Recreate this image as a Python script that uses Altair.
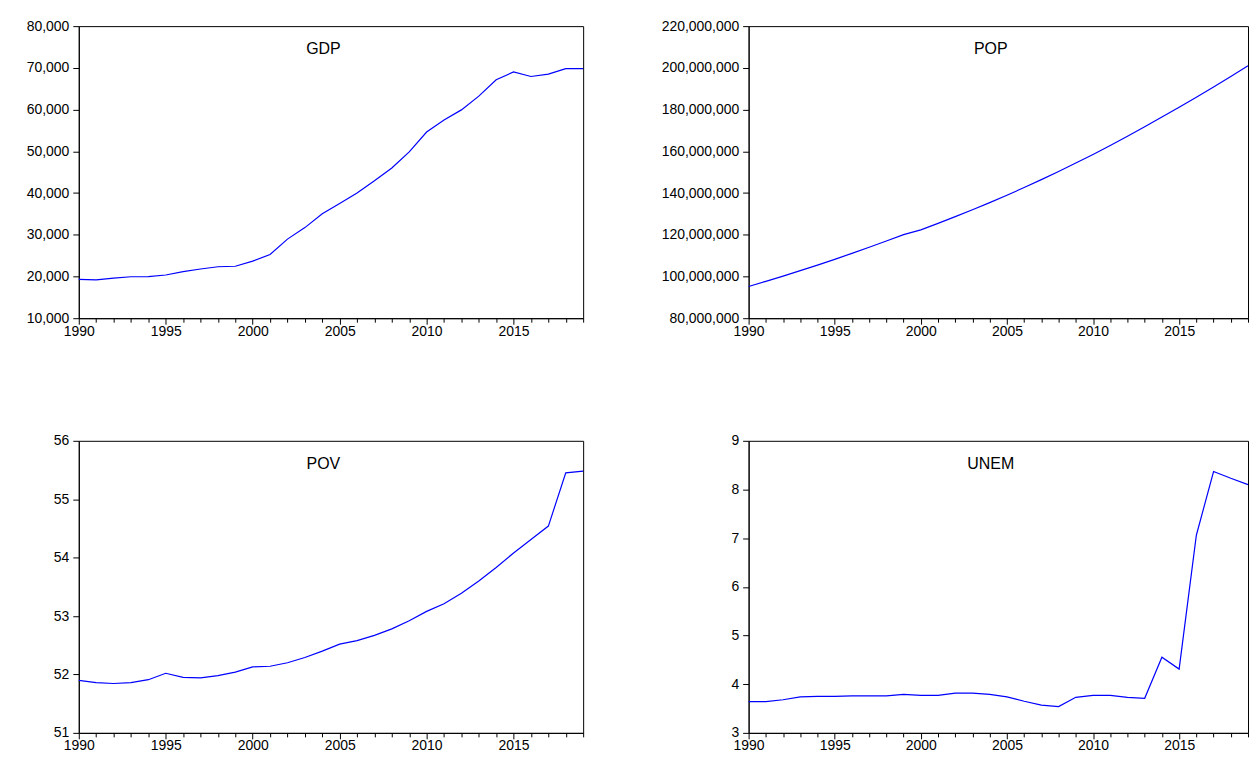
import altair as alt
import pandas as pd

years = list(range(1990, 2020))

gdp = [19305, 19199, 19620, 19928, 19979, 20353, 21178, 21790, 22333, 22449,
       23688, 25267, 28957, 31709, 35020, 37474, 39995, 42922, 46013, 49856,
       54612, 57511, 59929, 63218, 67152, 69023, 67931, 68490, 69800, 69800]

pop = [95212450, 97685360, 100182045, 102775465, 105455490, 108223377, 111094913,
       114027086, 117013498, 120063148, 122352009, 125463434, 128666710, 131972533,
       135393616, 138939478, 142614094, 146417024, 150347390, 154402181, 158503197,
       162805071, 167228767, 171765769, 176404902, 181137448, 185960289, 190873311,
       195874740, 200963603]

pov = [51.90, 51.86, 51.845, 51.86, 51.91, 52.02, 51.95, 51.94, 51.98, 52.04,
       52.13, 52.14, 52.20, 52.29, 52.40, 52.52, 52.58, 52.67, 52.78, 52.92,
       53.08, 53.21, 53.39, 53.60, 53.83, 54.08, 54.31, 54.54, 55.45, 55.48]

unem = [3.64, 3.64, 3.68, 3.74, 3.75, 3.75, 3.76, 3.76, 3.76, 3.79,
        3.77, 3.77, 3.815, 3.815, 3.79, 3.74, 3.65, 3.57, 3.54, 3.73,
        3.77, 3.77, 3.73, 3.71, 4.555, 4.31, 7.06, 8.37, 8.23, 8.10]

names = ["GDP", "POP", "POV", "UNEM"]
series = [gdp, pop, pov, unem]
y_domains = [(10000, 80000), (80000000, 220000000), (51, 56), (3, 9)]
y_steps = [10000, 20000000, 1, 1]
y_formats = [",d", ",d", "d", "d"]

WIDTHS = [506, 501, 506, 501]
H = 293
FONT = "Liberation Sans"


def panel(i):
    W = WIDTHS[i]
    df = pd.DataFrame({"year": years, "value": series[i]})
    lo, hi = y_domains[i]
    step = y_steps[i]
    yvals = []
    v = lo
    while v <= hi:
        yvals.append(v)
        v += step
    line = alt.Chart(df).mark_line(color="#0000ff", strokeWidth=1.2).encode(
        x=alt.X(
            "year:Q",
            scale=alt.Scale(domain=[1990, 2019], nice=False, zero=False),
            axis=alt.Axis(
                values=years,
                format="d",
                labelExpr="datum.value % 5 == 0 ? datum.label : ''",
                title=None,
                tickSize={"condition": {"test": "datum.value % 5 == 0", "value": 6}, "value": 4},
                labelPadding=0,
                labelBaseline="top",
                labelFlush=False,
                labelOverlap=False,
            ),
        ),
        y=alt.Y(
            "value:Q",
            scale=alt.Scale(domain=[lo, hi], nice=False, zero=False),
            axis=alt.Axis(values=yvals, format=y_formats[i], title=None,
                          tickSize=6, labelPadding=4, labelFlush=False,
                          labelOverlap=False),
        ),
    )
    label = alt.Chart(pd.DataFrame({"name": [names[i]]})).mark_text(
        font=FONT, fontSize=16, color="black", align="center", baseline="middle"
    ).encode(text="name:N", x=alt.value(W * 0.485), y=alt.value(23))
    return alt.layer(line, label).properties(width=W, height=H)


chart = alt.concat(
    panel(0), panel(1), panel(2), panel(3),
    columns=2,
    spacing={"row": 123, "column": 166},
    bounds="flush",
    align="each",
).properties(
    padding={"left": 17, "top": 9, "right": 0, "bottom": -3},
    background="white",
).configure_view(
    stroke="black", strokeWidth=1
).configure_axis(
    grid=False,
    domainColor="black",
    tickColor="black",
    labelColor="black",
    labelFont=FONT,
    labelFontSize=14,
    domainWidth=1,
    tickWidth=1,
)

chart.save("out.html", embed_options={"renderer": "svg", "actions": False})
